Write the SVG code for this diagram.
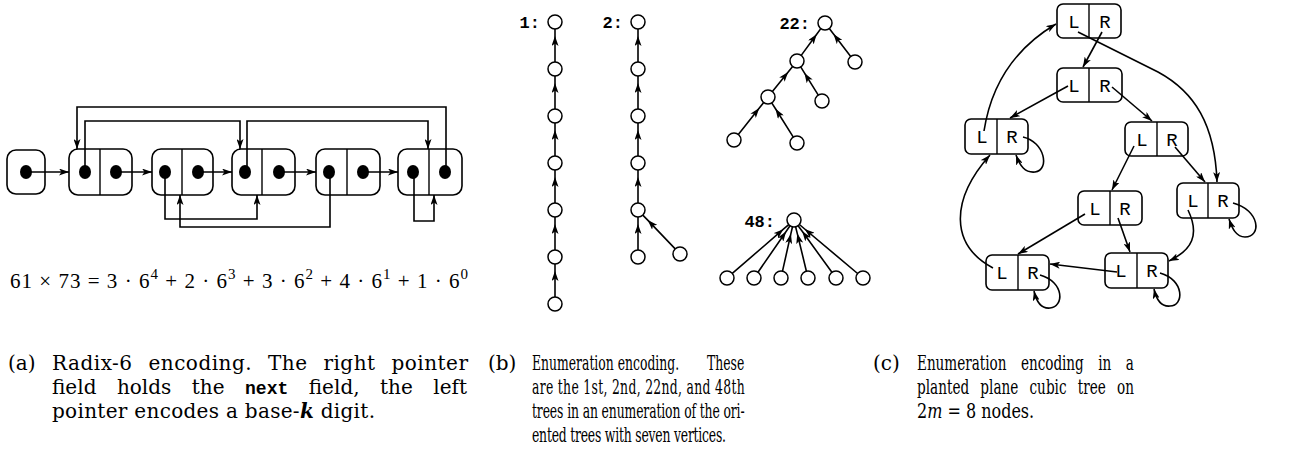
<svg xmlns="http://www.w3.org/2000/svg" width="1291" height="455" viewBox="0 0 1291 455">
<style>
.ln{fill:none;stroke:#000;stroke-width:1.6}
.box{fill:#fff;stroke:#000;stroke-width:1.6}
.div{stroke:#000;stroke-width:1.4}
.dot{fill:#000}
.circ{fill:#fff;stroke:#000;stroke-width:1.5}
.cap{font-family:"DejaVu Serif",serif;font-size:20px;fill:#000}
.lab{font-family:"Liberation Mono",monospace;font-weight:bold;font-size:17px;fill:#000}
.lr{font-family:"Liberation Mono",monospace;font-size:19px;fill:#000;text-anchor:middle}
.fm{font-family:"Liberation Serif",serif;font-size:21px;fill:#000}
.ar{marker-end:url(#ah)}
.am{marker-mid:url(#ah)}
</style>
<defs>
<marker id="ah" viewBox="0 0 10 7" refX="10" refY="3.5" markerWidth="10" markerHeight="7" markerUnits="userSpaceOnUse" orient="auto">
<path d="M0,0 L10,3.5 L0,7 L2.5,3.5 z" fill="#000"/>
</marker>
</defs>

<!-- Panel (a) -->
<g id="a-n0"><rect class="box" x="7" y="150" width="38" height="44" rx="9"/><ellipse class="dot" cx="26" cy="172" rx="6" ry="7"/></g>
<g id="a-n1"><rect class="box" x="69" y="149" width="63" height="46" rx="9"/><line class="div" x1="100" y1="149" x2="100" y2="195"/><ellipse class="dot" cx="85" cy="172" rx="6" ry="7"/><ellipse class="dot" cx="116" cy="172" rx="6" ry="7"/></g>
<g id="a-n2"><rect class="box" x="152" y="149" width="61" height="46" rx="9"/><line class="div" x1="182" y1="149" x2="182" y2="195"/><ellipse class="dot" cx="165" cy="172" rx="6" ry="7"/><ellipse class="dot" cx="198" cy="172" rx="6" ry="7"/></g>
<g id="a-n3"><rect class="box" x="232" y="149" width="63" height="46" rx="9"/><line class="div" x1="262" y1="149" x2="262" y2="195"/><ellipse class="dot" cx="245" cy="172" rx="6" ry="7"/><ellipse class="dot" cx="279" cy="172" rx="6" ry="7"/></g>
<g id="a-n4"><rect class="box" x="316" y="149" width="64" height="46" rx="9"/><line class="div" x1="347" y1="149" x2="347" y2="195"/><ellipse class="dot" cx="329" cy="172" rx="6" ry="7"/><ellipse class="dot" cx="363" cy="172" rx="6" ry="7"/></g>
<g id="a-n5"><rect class="box" x="398" y="149" width="64" height="46" rx="9"/><line class="div" x1="429" y1="149" x2="429" y2="195"/><ellipse class="dot" cx="413" cy="172" rx="6" ry="7"/><ellipse class="dot" cx="445" cy="172" rx="6" ry="7"/></g>
<g id="a-connectors">
<path class="ln ar" d="M26,172 L69,172"/>
<path class="ln ar" d="M116,172 L152,172"/>
<path class="ln ar" d="M198,172 L232,172"/>
<path class="ln ar" d="M279,172 L316,172"/>
<path class="ln ar" d="M363,172 L398,172"/>
<path class="ln ar" d="M446,172 L446,107 L77,107 L77,149"/>
<path class="ln ar" d="M85,172 L85,121 L240,121 L240,149"/>
<path class="ln ar" d="M247,172 L247,121 L428,121 L428,149"/>
<path class="ln ar" d="M165,172 L165,219 L257,219 L257,195"/>
<path class="ln ar" d="M330,172 L330,227 L180,227 L180,195"/>
<path class="ln ar" d="M414,172 L414,221 L434,221 L434,195"/>
</g>
<text class="fm" x="10" y="288" textLength="458" lengthAdjust="spacing">61 × 73 = 3 · 6<tspan font-size="15" dy="-9">4</tspan><tspan dy="9"> + 2 · 6</tspan><tspan font-size="15" dy="-9">3</tspan><tspan dy="9"> + 3 · 6</tspan><tspan font-size="15" dy="-9">2</tspan><tspan dy="9"> + 4 · 6</tspan><tspan font-size="15" dy="-9">1</tspan><tspan dy="9"> + 1 · 6</tspan><tspan font-size="15" dy="-9">0</tspan></text>

<!-- Panel (b) -->
<text class="lab" x="540" y="28" text-anchor="end">1:</text>
<text class="lab" x="623" y="28" text-anchor="end">2:</text>
<text class="lab" x="810" y="29" text-anchor="end">22:</text>
<text class="lab" x="775" y="227" text-anchor="end">48:</text>
<g id="b-connectors">
<path class="ln am" d="M555,62 L555,36 L555,29"/>
<path class="ln am" d="M555,109 L555,83 L555,76"/>
<path class="ln am" d="M555,156 L555,130 L555,123"/>
<path class="ln am" d="M555,203 L555,177 L555,170"/>
<path class="ln am" d="M555,250 L555,224 L555,217"/>
<path class="ln am" d="M555,297 L555,271 L555,264"/>
<path class="ln am" d="M638,62 L638,36 L638,29"/>
<path class="ln am" d="M638,109 L638,83 L638,76"/>
<path class="ln am" d="M638,156 L638,130 L638,123"/>
<path class="ln am" d="M638,203 L638,177 L638,170"/>
<path class="ln am" d="M638,250 L638,224 L638,217"/>
<path class="ln am" d="M675.2,248.9 L647.7,220.1 L642.8,215.1"/>
<path class="ln am" d="M801.2,55.4 L816.7,34.3 L820.8,28.6"/>
<path class="ln am" d="M850.7,56.4 L833.5,34.1 L829.3,28.6"/>
<path class="ln am" d="M772.4,91.5 L788.2,71.9 L792.6,66.5"/>
<path class="ln am" d="M818.3,95.1 L804.4,72.9 L800.7,66.9"/>
<path class="ln am" d="M738.3,134.5 L759.3,108.0 L763.7,102.5"/>
<path class="ln am" d="M793.3,137.1 L775.5,108.8 L771.7,102.9"/>
<path class="ln am" d="M732.3,273.4 L783.4,229.2 L788.7,224.6"/>
<path class="ln am" d="M758.0,272.2 L786.1,231.5 L790.0,225.8"/>
<path class="ln am" d="M782.5,271.2 L790.9,233.7 L792.5,226.8"/>
<path class="ln am" d="M806.4,271.2 L797.3,233.6 L795.6,226.8"/>
<path class="ln am" d="M831.9,272.3 L802.2,231.3 L798.1,225.7"/>
<path class="ln am" d="M857.6,273.5 L804.7,229.0 L799.4,224.5"/>
</g>
<g id="b-t1-1"><circle class="circ" cx="555" cy="22" r="7"/></g>
<g id="b-t1-2"><circle class="circ" cx="555" cy="69" r="7"/></g>
<g id="b-t1-3"><circle class="circ" cx="555" cy="116" r="7"/></g>
<g id="b-t1-4"><circle class="circ" cx="555" cy="163" r="7"/></g>
<g id="b-t1-5"><circle class="circ" cx="555" cy="210" r="7"/></g>
<g id="b-t1-6"><circle class="circ" cx="555" cy="257" r="7"/></g>
<g id="b-t1-7"><circle class="circ" cx="555" cy="304" r="7"/></g>
<g id="b-t2-1"><circle class="circ" cx="638" cy="22" r="7"/></g>
<g id="b-t2-2"><circle class="circ" cx="638" cy="69" r="7"/></g>
<g id="b-t2-3"><circle class="circ" cx="638" cy="116" r="7"/></g>
<g id="b-t2-4"><circle class="circ" cx="638" cy="163" r="7"/></g>
<g id="b-t2-5"><circle class="circ" cx="638" cy="210" r="7"/></g>
<g id="b-t2-6"><circle class="circ" cx="638" cy="257" r="7"/></g>
<g id="b-t2-7"><circle class="circ" cx="680" cy="254" r="7"/></g>
<g id="b-t22-1"><circle class="circ" cx="825" cy="23" r="7"/></g>
<g id="b-t22-2"><circle class="circ" cx="797" cy="61" r="7"/></g>
<g id="b-t22-3"><circle class="circ" cx="855" cy="62" r="7"/></g>
<g id="b-t22-4"><circle class="circ" cx="768" cy="97" r="7"/></g>
<g id="b-t22-5"><circle class="circ" cx="822" cy="101" r="7"/></g>
<g id="b-t22-6"><circle class="circ" cx="734" cy="140" r="7"/></g>
<g id="b-t22-7"><circle class="circ" cx="797" cy="143" r="7"/></g>
<g id="b-t48-1"><circle class="circ" cx="794" cy="220" r="7"/></g>
<g id="b-t48-2"><circle class="circ" cx="727" cy="278" r="7"/></g>
<g id="b-t48-3"><circle class="circ" cx="754" cy="278" r="7"/></g>
<g id="b-t48-4"><circle class="circ" cx="781" cy="278" r="7"/></g>
<g id="b-t48-5"><circle class="circ" cx="808" cy="278" r="7"/></g>
<g id="b-t48-6"><circle class="circ" cx="836" cy="278" r="7"/></g>
<g id="b-t48-7"><circle class="circ" cx="863" cy="278" r="7"/></g>

<!-- Panel (c) -->
<g id="c-n1"><rect class="box" x="1057" y="4" width="64" height="34" rx="6"/><line class="div" x1="1089" y1="4" x2="1089" y2="38"/><text class="lr" x="1074" y="28">L</text><text class="lr" x="1105" y="28">R</text></g>
<g id="c-n2"><rect class="box" x="1057" y="68" width="65" height="34" rx="6"/><line class="div" x1="1089" y1="68" x2="1089" y2="102"/><text class="lr" x="1074" y="92">L</text><text class="lr" x="1105" y="92">R</text></g>
<g id="c-n3"><rect class="box" x="965" y="119" width="63" height="35" rx="6"/><line class="div" x1="997" y1="119" x2="997" y2="154"/><text class="lr" x="982" y="143">L</text><text class="lr" x="1012" y="143">R</text></g>
<g id="c-n4"><rect class="box" x="1125" y="122" width="63" height="34" rx="6"/><line class="div" x1="1157" y1="122" x2="1157" y2="156"/><text class="lr" x="1142" y="146">L</text><text class="lr" x="1172" y="146">R</text></g>
<g id="c-n5"><rect class="box" x="1078" y="191" width="64" height="34" rx="6"/><line class="div" x1="1110" y1="191" x2="1110" y2="225"/><text class="lr" x="1095" y="215">L</text><text class="lr" x="1125" y="215">R</text></g>
<g id="c-n6"><rect class="box" x="1177" y="183" width="62" height="35" rx="6"/><line class="div" x1="1208" y1="183" x2="1208" y2="218"/><text class="lr" x="1193" y="207">L</text><text class="lr" x="1223" y="207">R</text></g>
<g id="c-n7"><rect class="box" x="986" y="255" width="63" height="35" rx="6"/><line class="div" x1="1018" y1="255" x2="1018" y2="290"/><text class="lr" x="1002" y="279">L</text><text class="lr" x="1033" y="279">R</text></g>
<g id="c-n8"><rect class="box" x="1105" y="253" width="63" height="35" rx="6"/><line class="div" x1="1137" y1="253" x2="1137" y2="288"/><text class="lr" x="1121" y="277">L</text><text class="lr" x="1152" y="277">R</text></g>
<g id="c-connectors">
<path class="ln ar" d="M1102,32 L1083,67"/>
<path class="ln ar" d="M1078,32 L1158,72 C1195,92 1215,125 1217,182"/>
<path class="ln ar" d="M1068,86 L1010,118"/>
<path class="ln ar" d="M1112,87 L1152,121"/>
<path class="ln ar" d="M984,131 Q995,60 1056,24"/>
<path class="ln ar" d="M1023,137 C1045,142 1050,170 1035,172 C1025,173 1020,166 1016,155"/>
<path class="ln ar" d="M1134,146 L1112,190"/>
<path class="ln ar" d="M1175,147 L1205,182"/>
<path class="ln ar" d="M1085,214 L1018,254"/>
<path class="ln ar" d="M1118,218 L1130,252"/>
<path class="ln ar" d="M1188,210 C1200,235 1192,250 1169,261"/>
<path class="ln ar" d="M1233,203 C1260,210 1262,237 1245,237 C1236,237 1232,228 1229,219"/>
<path class="ln ar" d="M1117,272 L1050,264"/>
<path class="ln ar" d="M993,268 C950,245 950,200 990,155"/>
<path class="ln ar" d="M1040,275 C1065,282 1064,307 1050,308 C1040,309 1036,300 1034,291"/>
<path class="ln ar" d="M1160,273 C1185,280 1184,306 1170,306 C1160,307 1156,298 1154,289"/>
</g>

<!-- Captions -->
<text class="cap" x="8" y="370">(a)</text>
<text class="cap" x="52" y="370" word-spacing="9" textLength="416" lengthAdjust="spacing">Radix-6 encoding.  The right pointer</text>
<text class="cap" x="52" y="394" word-spacing="14" textLength="415" lengthAdjust="spacing">field holds the <tspan font-family="Liberation Mono" font-weight="bold" font-size="18">next</tspan> field, the left</text>
<text class="cap" x="52" y="418" textLength="323" lengthAdjust="spacing">pointer encodes a base-<tspan font-style="italic" font-weight="bold">k</tspan> digit.</text>

<text class="cap" x="488" y="370">(b)</text>
<text class="cap" transform="translate(532,370) scale(0.62,1)" x="0" y="0">Enumeration encoding.</text>
<text class="cap" transform="translate(707,370) scale(0.62,1)" x="0" y="0">These</text>
<text class="cap" transform="translate(532,394) scale(0.62,1)" x="0" y="0" textLength="343" lengthAdjust="spacing">are the 1st, 2nd, 22nd, and 48th</text>
<text class="cap" transform="translate(532,418) scale(0.62,1)" x="0" y="0" textLength="343" lengthAdjust="spacing">trees in an enumeration of the ori-</text>
<text class="cap" transform="translate(532,442) scale(0.62,1)" x="0" y="0" textLength="313" lengthAdjust="spacing">ented trees with seven vertices.</text>

<text class="cap" x="873" y="370">(c)</text>
<text class="cap" transform="translate(917,370) scale(0.68,1)" x="0" y="0" word-spacing="15" textLength="319" lengthAdjust="spacing">Enumeration encoding in a</text>
<text class="cap" transform="translate(917,394) scale(0.68,1)" x="0" y="0" word-spacing="10" textLength="319" lengthAdjust="spacing">planted plane cubic tree on</text>
<text class="cap" transform="translate(917,418) scale(0.8,1)" x="0" y="0">2<tspan font-style="italic">m</tspan> = 8 nodes.</text>
</svg>
